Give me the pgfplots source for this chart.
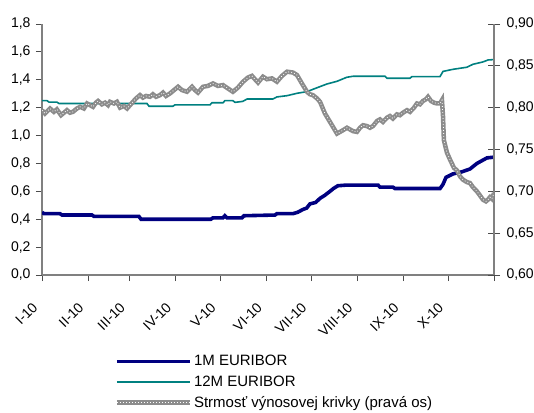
\documentclass[border=0pt]{standalone}
\usepackage{fontspec}
\setmainfont{Liberation Sans}
\usepackage{pgfplots}
\usepackage{pgfplotstable}
\pgfplotsset{compat=1.18}
\definecolor{euriblue}{RGB}{0,0,128}
\definecolor{euriteal}{RGB}{0,128,128}
\definecolor{slopegray}{RGB}{140,140,140}
\definecolor{axgray}{RGB}{128,128,128}

\pgfplotstableread{
x y
0 0.45
1.3 0.44
12 0.44
13.5 0.43
33.6 0.43
35 0.42
65.2 0.42
66.6 0.40
113.6 0.40
115 0.41
121.7 0.41
123 0.425
124.4 0.41
134.5 0.41
135.8 0.425
156.7 0.43
158 0.44
168.8 0.44
172 0.45
175.5 0.47
178 0.48
180.2 0.51
184 0.52
187 0.55
190 0.57
193.7 0.60
196 0.62
199 0.64
205 0.645
226 0.645
227.3 0.63
236 0.63
237.4 0.62
267.7 0.62
269.7 0.65
271.7 0.70
276.4 0.725
282.4 0.74
287.8 0.76
292.5 0.80
299.3 0.84
304 0.845
}\oneM

\pgfplotstableread{
x y
0 1.25
3.4 1.25
4.7 1.24
10 1.24
11.4 1.23
70.6 1.23
72 1.21
88 1.21
89.4 1.22
113 1.22
114.3 1.235
121.7 1.235
123 1.25
128.4 1.25
129.8 1.238
135 1.245
137.9 1.262
155.3 1.262
158 1.277
164.8 1.286
171.5 1.303
178.2 1.315
185 1.343
191.7 1.37
198.4 1.389
205 1.418
209.1 1.425
230.7 1.425
232 1.411
247.5 1.411
248.8 1.423
267.7 1.423
269.7 1.46
276.4 1.475
285.8 1.49
289.8 1.511
296.6 1.528
300 1.542
304 1.545
}\twelveM

\pgfplotstableread{
x y
0 0.797
2 0.793
5.4 0.799
8 0.795
10 0.798
12.8 0.791
14.8 0.794
16.8 0.797
18.8 0.794
20.8 0.795
23.5 0.799
25.6 0.801
28.2 0.799
30.3 0.805
32.3 0.803
34.3 0.801
36.3 0.806
37.7 0.808
40.3 0.804
42.4 0.806
44.4 0.803
45.7 0.807
48.4 0.805
50.4 0.807
52.5 0.800
55.1 0.802
57.2 0.799
59.2 0.803
61.2 0.807
63.2 0.811
65.9 0.815
67.9 0.812
70 0.814
72.6 0.813
74.6 0.816
76.7 0.813
79.4 0.815
81.4 0.818
83.4 0.814
86.1 0.817
88.8 0.821
91.5 0.825
94.1 0.821
97.5 0.819
100.9 0.825
102.9 0.821
104.9 0.818
108.3 0.825
111.6 0.826
115 0.829
118.4 0.826
121.7 0.827
125 0.823
128.4 0.819
131.8 0.824
135.2 0.831
138.5 0.836
141.2 0.838
143.2 0.834
145.3 0.830
148.6 0.837
151.3 0.834
154.7 0.835
158 0.831
161.4 0.838
164.8 0.843
168.8 0.842
171.5 0.839
174.8 0.829
178.2 0.819
180.2 0.816
182.2 0.815
185 0.811
187 0.807
190.3 0.793
193.7 0.783
196.4 0.775
198.4 0.769
200.4 0.771
202.4 0.773
205.1 0.776
207.1 0.774
209.1 0.772
211.8 0.771
213.9 0.776
215.9 0.779
218.6 0.778
220.6 0.776
222.6 0.778
225.3 0.784
227.3 0.786
229.3 0.783
232 0.788
234 0.790
236 0.787
238.7 0.792
240.8 0.791
242.8 0.794
245.5 0.797
247.5 0.795
250.2 0.800
252.2 0.805
254.2 0.804
256.2 0.808
258.2 0.810
259.6 0.813
261.6 0.808
263.6 0.806
265.6 0.805
267.7 0.805
269 0.809
269.7 0.790
270.3 0.761
272.4 0.746
274.4 0.738
277.1 0.728
279.1 0.725
281.1 0.718
283.1 0.714
285.8 0.711
287.8 0.710
289.8 0.705
292.5 0.700
294.6 0.695
296.6 0.690
298.6 0.688
299.9 0.690
301.3 0.693
302.6 0.691
304 0.698
}\slope

\begin{document}
\begin{tikzpicture}
\useasboundingbox (-42bp,-138bp) rectangle (492bp,275bp);
\pgfplotsset{
  common/.style={
    scale only axis, width=452bp, height=251bp,
    xmin=0, xmax=304,
    axis line style={-, draw=axgray, line width=1.1bp},
    tick style={draw=black!70, line width=0.8bp},
    tick label style={font=\fontsize{14bp}{16bp}\selectfont},
  }
}
\begin{axis}[common,
  ymin=0, ymax=1.8,
  axis x line*=bottom, axis y line*=left,
  xtick={0,31,59,90,120,151,181,212,243,273,304},
  xticklabels={I-10,II-10,III-10,IV-10,V-10,VI-10,VII-10,VIII-10,IX-10,X-10,{}},
  ytick={0,0.2,0.4,0.6,0.8,1.0,1.2,1.4,1.6,1.8},
  tick align=outside, major tick length=6bp,
  yticklabel style={xshift=-2bp, /pgf/number format/.cd,fixed,fixed zerofill,precision=1,use comma,assume math mode=true},
  xticklabel style={xshift=-7bp, yshift=-24bp, rotate=45, anchor=east, inner sep=0pt},
]
\addplot[euriteal, line width=1.6bp] table {\twelveM};
\addplot[euriblue, line width=3.6bp] table {\oneM};
\end{axis}
\begin{axis}[common,
  ymin=0.6, ymax=0.9,
  axis x line=none, axis y line*=right,
  ytick={0.6,0.65,0.7,0.75,0.8,0.85,0.9},
  tick align=center, major tick length=12bp,
  yticklabel style={xshift=3bp, /pgf/number format/.cd,fixed,fixed zerofill,precision=2,use comma,assume math mode=true},
  legend image code/.code={\draw[#1] (0bp,0bp) -- (73bp,0bp);},
  legend style={draw=none, fill=none, at={(0.16,-0.312)}, anchor=north west,
    inner sep=0pt, row sep=4.3bp, font=\fontsize{15bp}{17bp}\selectfont,
    cells={anchor=west}},
]
\addlegendimage{euriblue, line width=3.6bp}
\addlegendentry{1M EURIBOR}
\addlegendimage{euriteal, line width=1.6bp}
\addlegendentry{12M EURIBOR}
\addplot[slopegray, line width=4.5bp,
  legend image code/.code={\draw[slopegray, line width=4.5bp] (0bp,0bp) -- (73bp,0bp);
    \draw[white, line width=0.8bp, dash pattern=on 0.8bp off 2.2bp] (0bp,0bp) -- (73bp,0bp);}]
  table {\slope};
\addlegendentry{Strmosť výnosovej krivky (pravá os)}
\addplot[white, line width=0.8bp, dash pattern=on 0.8bp off 2.2bp, forget plot] table {\slope};
\end{axis}
\end{tikzpicture}
\end{document}
